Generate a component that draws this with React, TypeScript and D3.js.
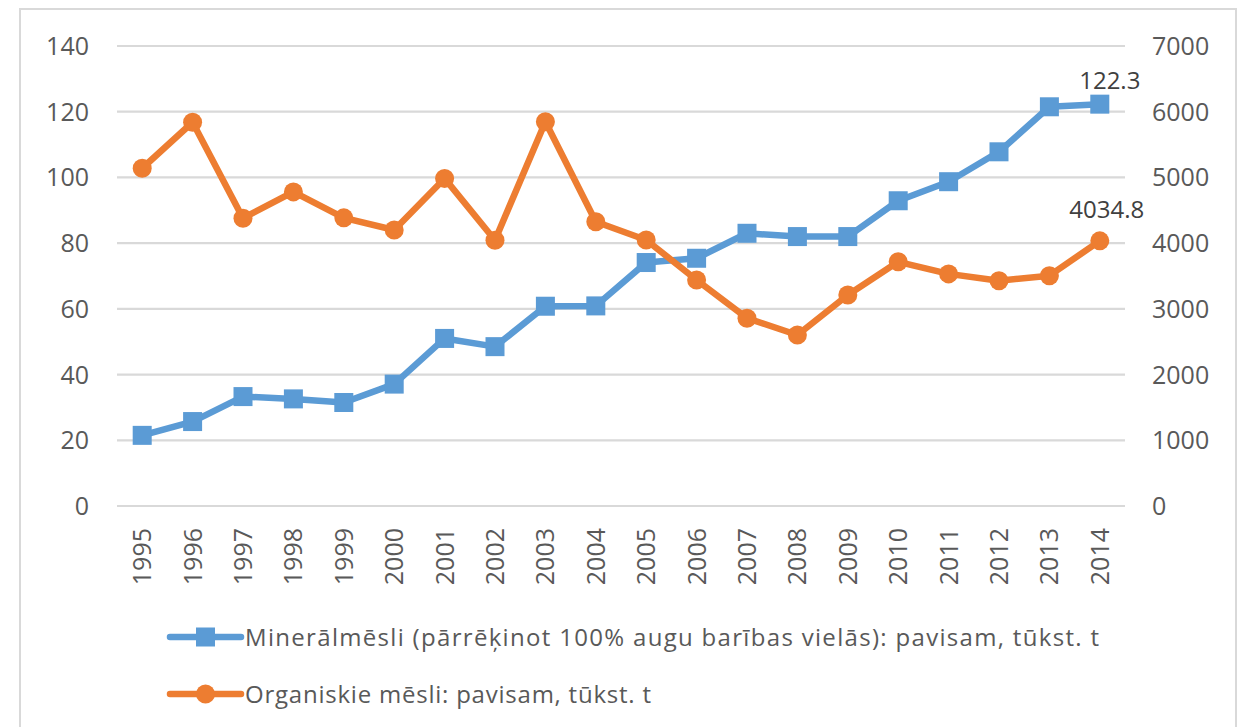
import React from "react";
import * as d3 from "d3";

const years = ["1995","1996","1997","1998","1999","2000","2001","2002","2003","2004","2005","2006","2007","2008","2009","2010","2011","2012","2013","2014"];
const mineral = [21.5, 25.7, 33.3, 32.6, 31.5, 37.1, 51.0, 48.5, 60.8, 60.9, 74.1, 75.4, 83.0, 82.0, 82.0, 92.9, 98.7, 107.8, 121.5, 122.3];
const organic = [5140, 5840, 4380, 4780, 4385, 4200, 4985, 4045, 5848, 4325, 4048, 3440, 2858, 2602, 3211, 3716, 3532, 3428, 3505, 4034.8];
const leftTicks = [0, 20, 40, 60, 80, 100, 120, 140];
const rightTicks = [0, 1000, 2000, 3000, 4000, 5000, 6000, 7000];
const seriesNames = [
  "Minerālmēsli (pārrēķinot 100% augu barības vielās): pavisam, tūkst. t",
  "Organiskie mēsli: pavisam, tūkst. t",
];
const lastLabels = ["122.3", "4034.8"];

const W = 1246, H = 727;
const BLUE = "#5B9BD5", ORANGE = "#ED7D31";
const FONT = "'Open Sans', 'DejaVu Sans', sans-serif";

export default function App() {
  const x = d3.scaleBand<string>().domain(years).range([117, 1125]);
  const xc = (d: string) => (x(d) as number) + x.bandwidth() / 2;
  const yL = d3.scaleLinear().domain([0, 140]).range([506, 46]);
  const yR = d3.scaleLinear().domain([0, 7000]).range([506, 46]);

  const lineL = d3.line<number>().x((_, i) => xc(years[i])).y((d) => yL(d));
  const lineR = d3.line<number>().x((_, i) => xc(years[i])).y((d) => yR(d));
  const n = years.length - 1;

  return (
    <svg width={W} height={H} style={{ position: "absolute", left: 0, top: 0, background: "#fff" }} fontFamily={FONT}>
      <rect x={20} y={9} width={1216} height={740} fill="#fff" stroke="#d9d9d9" strokeWidth={2} />
      {leftTicks.map((t) => (
        <line key={"g" + t} x1={117} x2={1125} y1={yL(t)} y2={yL(t)} stroke="#d9d9d9" strokeWidth={2.2} />
      ))}
      {leftTicks.map((t) => (
        <text key={"l" + t} x={89} y={yL(t)} dy="0.36em" textAnchor="end" fontSize={25} fill="#595959">{t}</text>
      ))}
      {rightTicks.map((t) => (
        <text key={"r" + t} x={1152} y={yR(t)} dy="0.36em" textAnchor="start" fontSize={25} fill="#595959">{t}</text>
      ))}
      {years.map((yr) => (
        <text key={"x" + yr} transform={`translate(${xc(yr)},528) rotate(-90)`} dy="0.36em" textAnchor="end" fontSize={25} fill="#595959">{yr}</text>
      ))}
      <path d={lineL(mineral) as string} fill="none" stroke={BLUE} strokeWidth={6.5} strokeLinejoin="round" />
      {mineral.map((v, i) => (
        <rect key={"m" + i} x={xc(years[i]) - 9.5} y={yL(v) - 9.5} width={19} height={19} fill={BLUE} />
      ))}
      <path d={lineR(organic) as string} fill="none" stroke={ORANGE} strokeWidth={6.5} strokeLinejoin="round" />
      {organic.map((v, i) => (
        <circle key={"o" + i} cx={xc(years[i])} cy={yR(v)} r={9.5} fill={ORANGE} />
      ))}
      <text x={xc(years[n]) + 10} y={yL(mineral[n]) - 24} dy="0.36em" textAnchor="middle" fontSize={24} fill="#404040">{lastLabels[0]}</text>
      <text x={xc(years[n]) + 7} y={yR(organic[n]) - 31} dy="0.36em" textAnchor="middle" fontSize={24} fill="#404040">{lastLabels[1]}</text>
      {/* legend */}
      <g>
        <line x1={170} x2={241} y1={637} y2={637} stroke={BLUE} strokeWidth={6.5} strokeLinecap="round" />
        <rect x={196} y={627.5} width={19} height={19} fill={BLUE} />
        <text x={245} y={637} dy="0.36em" fontSize={24} fill="#595959" textLength={854} lengthAdjust="spacing">{seriesNames[0]}</text>
        <line x1={170} x2={241} y1={694} y2={694} stroke={ORANGE} strokeWidth={6.5} strokeLinecap="round" />
        <circle cx={205.5} cy={694} r={9.5} fill={ORANGE} />
        <text x={245} y={694} dy="0.36em" fontSize={24} fill="#595959" textLength={406} lengthAdjust="spacing">{seriesNames[1]}</text>
      </g>
    </svg>
  );
}
